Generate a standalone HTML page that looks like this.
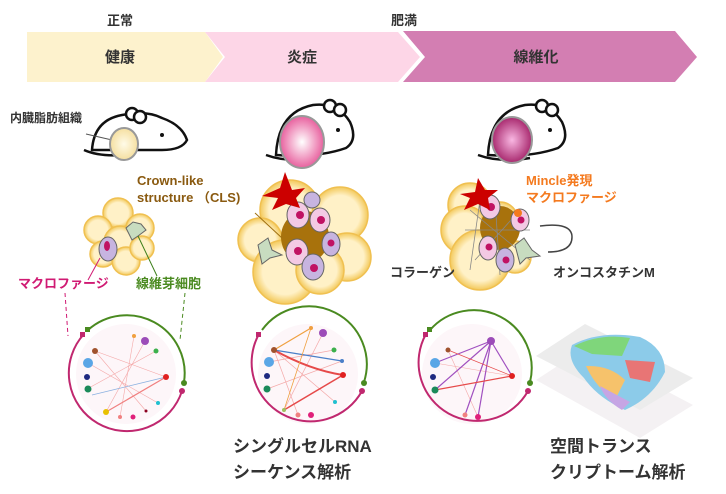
<!DOCTYPE html>
<html><head><meta charset="utf-8"><style>
html,body{margin:0;padding:0;background:#fff;}
svg{display:block;font-family:"Liberation Sans","Noto Sans CJK JP",sans-serif;font-weight:bold;}
</style></head><body>
<svg width="726" height="494" viewBox="0 0 726 494" xmlns="http://www.w3.org/2000/svg">
<defs>
<radialGradient id="fy"><stop offset="0" stop-color="#fffbe8"/><stop offset="1" stop-color="#f5dfa0"/></radialGradient>
<radialGradient id="fp"><stop offset="0" stop-color="#fff"/><stop offset="1" stop-color="#e8609e"/></radialGradient>
<radialGradient id="fm"><stop offset="0" stop-color="#f9b7e2"/><stop offset="1" stop-color="#a8296e"/></radialGradient>
<radialGradient id="ad"><stop offset="0.7" stop-color="#fff1c7"/><stop offset="1" stop-color="#f3c95b"/></radialGradient>
</defs>
<text x="120" y="25" font-size="13" fill="#333" text-anchor="middle">正常</text>
<text x="404" y="25" font-size="13" fill="#333" text-anchor="middle">肥満</text>
<polygon points="27,32 205,32 223,57 205,82 27,82" fill="#fdf2cd"/>
<polygon points="205,32 398,32 420,57 398,82 205,82 225,57" fill="#fdd6e7"/>
<polygon points="403,31 675,31 697,57 675,82 403,82 425,57" fill="#d37eb2"/>
<text x="120" y="62" font-size="15" fill="#333" text-anchor="middle">健康</text>
<text x="302" y="62" font-size="15" fill="#333" text-anchor="middle">炎症</text>
<text x="536" y="62" font-size="15" fill="#333" text-anchor="middle">線維化</text>
<text x="10" y="122" font-size="12" fill="#333">内臓脂肪組織</text>
<g stroke="#111" stroke-width="2.5" fill="#fff">
<g transform="translate(22,0)">
<path d="M70,150 Q72,120 100,115 Q125,110 140,118 Q160,125 165,140 Q160,150 140,150 Z"/>
<circle cx="110" cy="114" r="6"/><circle cx="118" cy="117" r="6"/>
<path d="M62,150 Q80,158 110,154" fill="none"/>
</g>
<g transform="translate(88,0)">
<path d="M188,155 Q190,112 225,105 Q250,102 262,122 Q270,140 258,148 Q230,158 188,155Z"/>
<circle cx="242" cy="106" r="6"/><circle cx="252" cy="110" r="6"/>
<path d="M178,155 Q200,163 230,158" fill="none"/>
</g>
<g transform="translate(150,0)">
<path d="M338,155 Q340,112 375,105 Q400,102 412,122 Q420,140 408,148 Q380,158 338,155Z"/>
<circle cx="392" cy="106" r="6"/><circle cx="402" cy="110" r="6"/>
<path d="M328,155 Q350,163 380,158" fill="none"/>
</g>
</g>
<circle cx="162" cy="135" r="2" fill="#111"/><circle cx="338" cy="130" r="2" fill="#111"/><circle cx="550" cy="130" r="2" fill="#111"/>
<line x1="86" y1="134" x2="112" y2="140" stroke="#555"/>
<ellipse cx="124" cy="144" rx="14" ry="16" fill="url(#fy)" stroke="#999" stroke-width="2"/>
<ellipse cx="302" cy="142" rx="22" ry="26" fill="url(#fp)" stroke="#999" stroke-width="2"/>
<ellipse cx="512" cy="140" rx="20" ry="23" fill="url(#fm)" stroke="#999" stroke-width="2"/>
<!-- cluster 1 -->
<g fill="url(#ad)" stroke="#f0c050" stroke-width="1.5">
<circle cx="118" cy="213" r="15"/><circle cx="98" cy="230" r="14"/><circle cx="140" cy="228" r="14"/><circle cx="120" cy="242" r="16"/><circle cx="103" cy="254" r="13"/><circle cx="126" cy="261" r="14"/><circle cx="142" cy="248" r="12"/>
</g>
<ellipse cx="108" cy="249" rx="9" ry="12" fill="#c7b4e0" stroke="#666"/><ellipse cx="107" cy="246" rx="3" ry="5" fill="#c01263"/>
<polygon points="126,228 133,222 141,224 146,230 138,236 132,240" fill="#c8dcc0" stroke="#666"/>
<line x1="100" y1="258" x2="88" y2="280" stroke="#d01a73"/><line x1="138" y1="236" x2="157" y2="276" stroke="#3d7f1b"/>
<text x="18" y="288" font-size="13" fill="#d01a73">マクロファージ</text>
<text x="136" y="288" font-size="13" fill="#4a8a20">線維芽細胞</text>
<!-- cluster 2 -->
<g fill="url(#ad)" stroke="#f0c050" stroke-width="1.5">
<circle cx="290" cy="210" r="30"/><circle cx="340" cy="215" r="28"/><circle cx="260" cy="240" r="22"/><circle cx="347" cy="257" r="24"/><circle cx="285" cy="272" r="32"/><circle cx="320" cy="270" r="24"/>
</g>
<ellipse cx="305" cy="237" rx="24" ry="26" fill="#a8720c"/>
<g stroke="#666"><ellipse cx="298" cy="215" rx="11" ry="13" fill="#f3c9e4"/><ellipse cx="320" cy="220" rx="10" ry="12" fill="#f3c9e4"/><ellipse cx="331" cy="244" rx="9" ry="12" fill="#c7b4e0"/><ellipse cx="297" cy="252" rx="11" ry="13" fill="#f3c9e4"/><ellipse cx="313" cy="267" rx="11" ry="13" fill="#c7b4e0"/><ellipse cx="312" cy="200" rx="8" ry="8" fill="#c7b4e0"/></g>
<g fill="#c01263"><circle cx="300" cy="215" r="4"/><circle cx="321" cy="220" r="4"/><circle cx="331" cy="243" r="3.5"/><circle cx="298" cy="251" r="4"/><circle cx="314" cy="268" r="4"/></g>
<polygon points="280,188 285,172 292,190 305,188 296,198 300,208 286,204 272,210 278,198 262,196" fill="#cc0000"/>
<polygon points="258,245 268,238 272,250 282,255 270,258 262,264" fill="#c8dcc0" stroke="#666"/>
<line x1="255" y1="213" x2="282" y2="238" stroke="#a07010"/>
<text x="137" y="185" font-size="13" fill="#8a5a10">Crown-like</text>
<text x="137" y="202" font-size="13" fill="#8a5a10">structure （CLS)</text>
<!-- cluster 3 -->
<g fill="url(#ad)" stroke="#f0c050" stroke-width="1.5">
<circle cx="470" cy="205" r="22"/><circle cx="465" cy="230" r="24"/><circle cx="500" cy="220" r="18"/><circle cx="480" cy="260" r="30"/><circle cx="515" cy="257" r="16"/>
</g>
<ellipse cx="500" cy="228" rx="20" ry="22" fill="#a8720c"/>
<g stroke="#888" stroke-width="0.8" fill="none"><path d="M470,210 L530,260 M480,200 L470,270 M465,230 L530,230 M475,260 L520,210 M495,200 L500,275"/></g>
<g stroke="#666"><ellipse cx="490" cy="207" rx="10" ry="12" fill="#f3c9e4"/><ellipse cx="520" cy="220" rx="9" ry="11" fill="#f3c9e4"/><ellipse cx="488" cy="248" rx="9" ry="12" fill="#f3c9e4"/><ellipse cx="505" cy="260" rx="9" ry="12" fill="#c7b4e0"/></g>
<g fill="#c01263"><circle cx="491" cy="207" r="4"/><circle cx="521" cy="220" r="3.5"/><circle cx="489" cy="247" r="3.5"/><circle cx="506" cy="260" r="3.5"/></g>
<polygon points="515,245 524,238 532,250 540,256 526,258 520,264" fill="#c8dcc0" stroke="#666"/>
<polygon points="475,192 478,178 485,190 498,190 488,198 490,210 478,204 464,210 470,198 460,194" fill="#cc0000"/>
<circle cx="518" cy="213" r="4" fill="#f47a1f"/>
<path d="M540,226 Q572,222 572,237 Q572,252 548,252" fill="none" stroke="#444" stroke-width="1.5"/>
<text x="526" y="185" font-size="13" fill="#f47a1f">Mincle発現</text>
<text x="526" y="202" font-size="13" fill="#f47a1f">マクロファージ</text>
<text x="390" y="277" font-size="13" fill="#333">コラーゲン</text>
<text x="553" y="277" font-size="13" fill="#333">オンコスタチンM</text>
<path d="M65,293 L68,336" stroke="#d01a73" stroke-dasharray="4,3" fill="none"/>
<path d="M185,293 L180,340" stroke="#4a8a20" stroke-dasharray="4,3" fill="none"/>

<!-- plot 1 -->
<circle cx="126" cy="374" r="50" fill="#fdf6f9"/>
<g stroke="#f4a8a8" stroke-width="0.6"><line x1="95" y1="351" x2="166" y2="377"/><line x1="88" y1="363" x2="158" y2="403"/><line x1="106" y1="412" x2="145" y2="341"/><line x1="134" y1="336" x2="120" y2="417"/><line x1="87" y1="389" x2="156" y2="351"/><line x1="95" y1="351" x2="146" y2="411"/></g>
<line x1="106" y1="412" x2="166" y2="377" stroke="#f08080" stroke-width="1.2"/>
<line x1="92" y1="395" x2="166" y2="377" stroke="#8ab0e0" stroke-width="0.8"/>
<circle cx="95" cy="351" r="3" fill="#a0522d"/><circle cx="88" cy="363" r="5" fill="#5aa6e6"/><circle cx="87" cy="377" r="3" fill="#1f2a80"/><circle cx="88" cy="389" r="3.5" fill="#1b8a5a"/><circle cx="106" cy="412" r="3" fill="#e8c000"/><circle cx="120" cy="417" r="2" fill="#f08080"/><circle cx="133" cy="417" r="2.5" fill="#e0207a"/><circle cx="145" cy="341" r="4" fill="#9c4cb8"/><circle cx="156" cy="351" r="2.5" fill="#3cb04c"/><circle cx="166" cy="377" r="3" fill="#e02020"/><circle cx="134" cy="336" r="2" fill="#f0a040"/><circle cx="158" cy="403" r="2" fill="#20c0d0"/><circle cx="146" cy="411" r="1.5" fill="#8b0020"/>
<path d="M88,330 A58,58 0 0,1 184,382" stroke="#4a8a20" stroke-width="2" fill="none"/>
<path d="M182,391 A58,58 0 1,1 84,334" stroke="#c0286f" stroke-width="2" fill="none"/>
<rect x="85" y="327" width="5" height="5" fill="#4a8a20"/><circle cx="184" cy="383" r="3" fill="#4a8a20"/>
<rect x="80" y="332" width="5" height="5" fill="#c0286f"/><circle cx="182" cy="391" r="3" fill="#c0286f"/>

<!-- plot 2 -->
<circle cx="308" cy="374" r="50" fill="#fdf6f9"/>
<g fill="none" stroke-width="0.7" stroke="#f4a8a8"><line x1="274" y1="350" x2="335" y2="402"/><line x1="269" y1="362" x2="334" y2="350"/><line x1="284" y1="410" x2="323" y2="333"/><line x1="267" y1="389" x2="342" y2="361"/><line x1="298" y1="415" x2="274" y2="350"/></g>
<path d="M274,350 Q310,370 343,375" stroke="#e64a4a" stroke-width="2" fill="none"/>
<line x1="274" y1="350" x2="342" y2="361" stroke="#4a7fc8" stroke-width="1.2"/>
<line x1="274" y1="350" x2="311" y2="328" stroke="#f0a040" stroke-width="1.2"/>
<line x1="284" y1="410" x2="343" y2="375" stroke="#e64a4a" stroke-width="1.5"/>
<line x1="284" y1="410" x2="311" y2="328" stroke="#f0a040" stroke-width="0.8"/>
<circle cx="274" cy="350" r="3" fill="#a0522d"/><circle cx="269" cy="362" r="5" fill="#5aa6e6"/><circle cx="267" cy="376" r="3" fill="#1f2a80"/><circle cx="267" cy="389" r="3.5" fill="#1b8a5a"/><circle cx="284" cy="410" r="2" fill="#a0c060"/><circle cx="298" cy="415" r="2.5" fill="#f08080"/><circle cx="311" cy="415" r="3" fill="#e0207a"/><circle cx="323" cy="333" r="4" fill="#9c4cb8"/><circle cx="311" cy="328" r="2" fill="#f0a040"/><circle cx="334" cy="350" r="2.5" fill="#3cb04c"/><circle cx="342" cy="361" r="2" fill="#4a7fc8"/><circle cx="343" cy="375" r="3" fill="#e02020"/><circle cx="335" cy="402" r="2" fill="#20c0d0"/>
<path d="M262,330 A58,58 0 0,1 364,382" stroke="#4a8a20" stroke-width="2" fill="none"/>
<path d="M362,391 A58,58 0 1,1 259,334" stroke="#c0286f" stroke-width="2" fill="none"/>
<rect x="256" y="332" width="5" height="5" fill="#c0286f"/><circle cx="364" cy="383" r="3" fill="#4a8a20"/><circle cx="362" cy="391" r="3" fill="#c0286f"/>

<!-- plot 3 -->
<circle cx="472" cy="374" r="50" fill="#fdf6f9"/>
<g stroke="#f4a8a8" stroke-width="0.6"><line x1="435" y1="363" x2="512" y2="376"/><line x1="435" y1="390" x2="491" y2="341"/><line x1="448" y1="350" x2="478" y2="417"/></g>
<g stroke="#a050c0" stroke-width="1.2" fill="none"><line x1="491" y1="341" x2="435" y2="363"/><line x1="491" y1="341" x2="435" y2="390"/><line x1="491" y1="341" x2="478" y2="417"/><line x1="491" y1="341" x2="512" y2="376"/><line x1="491" y1="341" x2="465" y2="415"/></g>
<line x1="435" y1="390" x2="512" y2="376" stroke="#e64a4a" stroke-width="1.2"/>
<line x1="448" y1="350" x2="512" y2="376" stroke="#e64a4a" stroke-width="0.7"/>
<circle cx="491" cy="341" r="4" fill="#9c4cb8"/><circle cx="435" cy="363" r="5" fill="#5aa6e6"/><circle cx="433" cy="377" r="3" fill="#1f2a80"/><circle cx="435" cy="390" r="3.5" fill="#1b8a5a"/><circle cx="448" cy="350" r="2.5" fill="#a0522d"/><circle cx="512" cy="376" r="3" fill="#e02020"/><circle cx="465" cy="415" r="2.5" fill="#f08080"/><circle cx="478" cy="417" r="3" fill="#e0207a"/>
<path d="M430,330 A58,58 0 0,1 530,382" stroke="#4a8a20" stroke-width="2" fill="none"/>
<path d="M528,391 A58,58 0 1,1 426,334" stroke="#c0286f" stroke-width="2" fill="none"/>
<rect x="427" y="327" width="5" height="5" fill="#4a8a20"/><circle cx="530" cy="383" r="3" fill="#4a8a20"/>
<rect x="423" y="332" width="5" height="5" fill="#c0286f"/><circle cx="528" cy="391" r="3" fill="#c0286f"/>

<!-- spatial -->
<polygon points="536,380 585,348 693,405 640,438" fill="#f4f1f3"/>
<polygon points="536,356 585,324 693,378 640,410" fill="#ececec"/>
<path d="M572,345 Q600,330 640,337 Q665,348 665,372 Q652,398 625,410 Q598,398 584,378 Q566,360 572,345Z" fill="#8ccbe9"/>
<path d="M574,346 Q600,333 630,338 L622,356 L592,354Z" fill="#7fd67b"/>
<path d="M586,366 Q610,365 625,380 L615,400 Q596,388 586,366Z" fill="#f6c26b"/>
<path d="M625,360 L655,362 L650,382 L630,378Z" fill="#e87575"/>
<path d="M600,386 L630,402 L622,410 Q605,400 600,386Z" fill="#c6a5e4"/>
<text x="233" y="452" font-size="17" fill="#333">シングルセルRNA</text>
<text x="233" y="478" font-size="17" fill="#333">シーケンス解析</text>
<text x="550" y="452" font-size="17" fill="#333">空間トランス</text>
<text x="550" y="478" font-size="17" fill="#333">クリプトーム解析</text>
</svg>
</body></html>
